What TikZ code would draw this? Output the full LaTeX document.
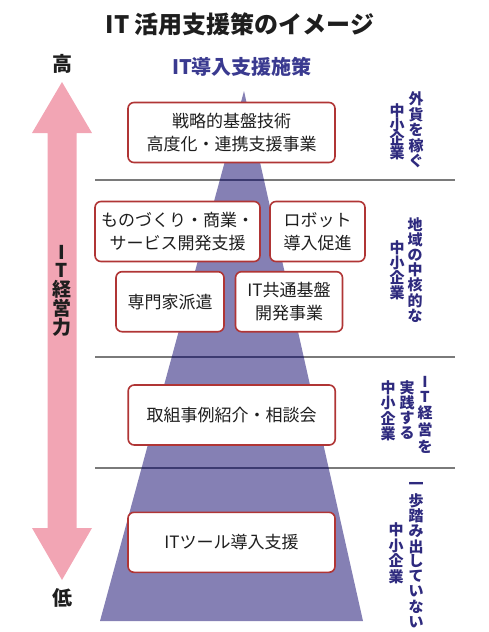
\documentclass[tikz,border=0pt]{standalone}
\usepackage{fontspec}
\setmainfont{Noto Sans CJK JP}
\definecolor{arrowpink}{HTML}{F2A5B4}
\definecolor{pyr}{HTML}{8580B4}
\definecolor{pyrline}{HTML}{3C3A70}
\definecolor{boxred}{HTML}{B03535}
\definecolor{navy}{HTML}{2E2A7E}
\definecolor{ptitlecol}{HTML}{3A3A90}
\definecolor{sepgray}{HTML}{7A7A7A}
\definecolor{txt}{HTML}{1E1E1E}
\tikzset{
  sbox/.style={draw=boxred, line width=1.6pt, rounded corners=6pt, fill=white,
    align=center, inner sep=0pt, minimum height=60pt, text=txt,
    font=\fontsize{17}{23.5}\selectfont},
  vchar/.style={inner sep=0pt, text=navy, font=\bfseries\fontsize{15}{15}\selectfont},
  achar/.style={inner sep=0pt, text=txt, font=\bfseries\fontsize{19}{19}\selectfont},
  sepline/.style={draw=sepgray, line width=2pt},
}
\newcommand{\vcol}[5]{% name, x, first y, pitch, chars
  \foreach \c [count=\i from 0] in {#5} {
    \node[vchar, name=#1\i] at (#2, #3+#4*\i) {\c};
  }%
}
\begin{document}
\begin{tikzpicture}[x=1pt, y=-1pt]
\useasboundingbox (0,0) rectangle (489,632);
% title
\node[inner sep=0pt, text=txt, font=\bfseries\fontsize{24}{24}\selectfont] (title) at (240,24) {IT 活用支援策のイメージ};
\node[inner sep=0pt, text=txt, font=\bfseries\fontsize{20}{20}\selectfont] (high) at (62,64) {高};
\node[inner sep=0pt, text=txt, font=\bfseries\fontsize{20}{20}\selectfont] (low) at (62,598) {低};
\node[inner sep=0pt, text=ptitlecol, font=\bfseries\fontsize{20}{20}\selectfont] (ptitle) at (242,67) {IT導入支援施策};
% pink double arrow
\fill[arrowpink] (62,82) -- (32,133) -- (47.5,133) -- (47.5,528) -- (32,528) -- (62,580)
  -- (92,528) -- (76.5,528) -- (76.5,133) -- (92,133) -- cycle;
\node[achar] (a1) at (62,252) {I};
\node[achar] (a2) at (62,270) {T};
\node[achar] (a3) at (62,289) {経};
\node[achar] (a4) at (62,308) {営};
\node[achar] (a5) at (62,327) {力};
% pyramid
\fill[pyr] (244,91) -- (100,621) -- (363,621) -- cycle;
% separators
\coordinate (s1l) at (95,180); \coordinate (s1r) at (455,180);
\coordinate (s2l) at (95,357); \coordinate (s2r) at (455,357);
\coordinate (s3l) at (95,468); \coordinate (s3r) at (455,468);
\draw[sepline] (s1l) -- (s1r);
\draw[sepline] (s2l) -- (s2r);
\draw[sepline] (s3l) -- (s3r);
\begin{scope}
  \clip (244,91) -- (100,621) -- (363,621) -- cycle;
  \draw[sepline, draw=pyrline] (s1l) -- (s1r);
  \draw[sepline, draw=pyrline] (s2l) -- (s2r);
  \draw[sepline, draw=pyrline] (s3l) -- (s3r);
\end{scope}
% boxes
\node[sbox, minimum width=207pt] (b1) at (231.5,132.5) {戦略的基盤技術\\高度化・連携支援事業};
\node[sbox, minimum width=165pt] (b2) at (177.5,231.5) {ものづくり・商業・\\サービス開発支援};
\node[sbox, minimum width=95pt] (b3) at (317.5,231.5) {ロボット\\導入促進};
\node[sbox, minimum width=108pt] (b4) at (170,301.7) {専門家派遣};
\node[sbox, minimum width=107pt] (b5) at (289,301.7) {IT共通基盤\\開発事業};
\node[sbox, minimum width=207pt] (b6) at (231.7,415) {取組事例紹介・相談会};
\node[sbox, minimum width=207pt] (b7) at (231.5,542.3) {ITツール導入支援};
% right labels
\vcol{ra}{416}{99}{15.5}{外,貨,を,稼,ぐ}
\vcol{la}{397}{111}{13.8}{中,小,企,業}
\vcol{rb}{415}{224.5}{15.2}{地,域,の,中,核,的,な}
\vcol{lb}{397}{247.5}{15}{中,小,企,業}
\node[vchar] (rc0) at (425,382) {I};
\node[vchar] (rc1) at (425,396.5) {T};
\node[vchar] (rc2) at (425,413) {経};
\node[vchar] (rc3) at (425,430) {営};
\node[vchar] (rc4) at (425,447) {を};
\vcol{mc}{407}{387.5}{15.3}{実,践,す,る}
\vcol{lc}{388}{387.5}{15.3}{中,小,企,業}
\vcol{rd}{416}{486}{15.1}{一,歩,踏,み,出,し,て,い,な,い}
\vcol{ld}{396}{530}{15.5}{中,小,企,業}
\end{tikzpicture}
\end{document}
